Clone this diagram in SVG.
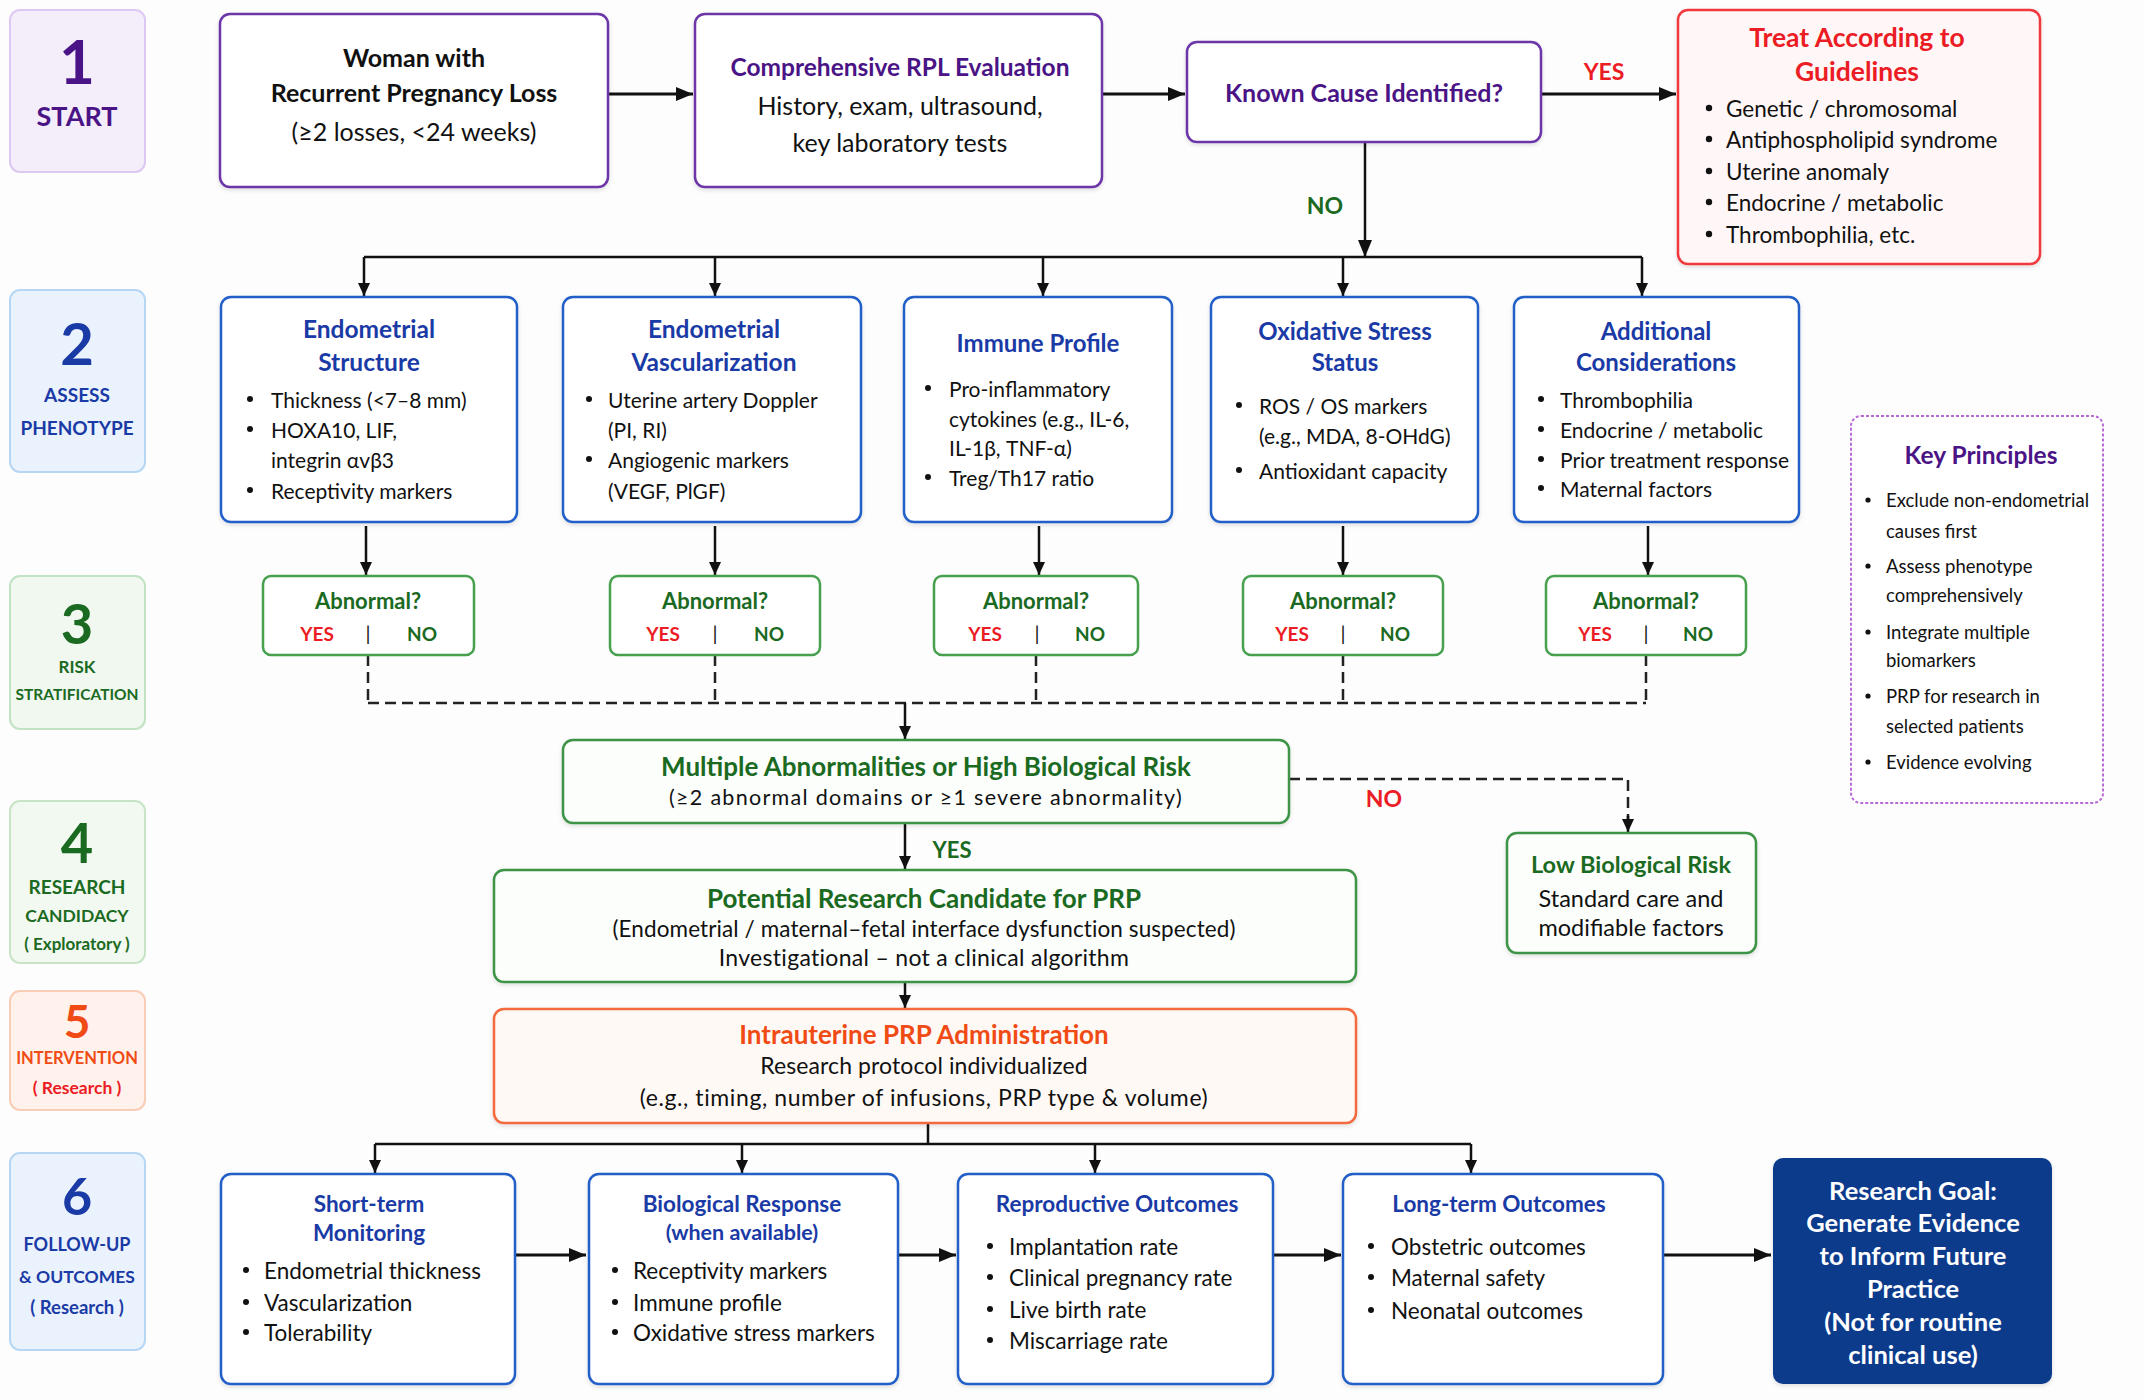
<svg xmlns="http://www.w3.org/2000/svg" width="2144" height="1399" viewBox="0 0 2144 1399">
<defs>
<marker id="ah" markerUnits="userSpaceOnUse" markerWidth="18" markerHeight="16" refX="17" refY="8" orient="auto"><path d="M0,1 L17,8 L0,15 z" fill="#111"/></marker>
<marker id="as" markerUnits="userSpaceOnUse" markerWidth="14" markerHeight="14" refX="13" refY="7" orient="auto"><path d="M0,1 L13,7 L0,13 z" fill="#111"/></marker>
<filter id="sh" x="-5%" y="-5%" width="110%" height="115%"><feDropShadow dx="0" dy="2" stdDeviation="2" flood-color="#000" flood-opacity="0.12"/></filter>
</defs>
<style>
text{font-family:Lato,"Liberation Sans",sans-serif;dominant-baseline:central;fill:#111}
.c{text-anchor:middle}
.b{font-weight:bold}
.n{font-size:21px}
.m{font-size:25px}
.r6{font-size:22.5px}
.box{fill:#fff;stroke-width:2.5}
.pur{stroke:#6c35a8}
.blu{stroke:#2160c8}
.grn{stroke:#46a04e}
.tp{fill:#4a1486}
.tb{fill:#1a3aa6}
.tg{fill:#1b6a22}
.tr{fill:#ec1c24}
.to{fill:#f04b14}
.w{fill:#fff}
.ln{stroke:#111;stroke-width:2.5;fill:none}
.lt{stroke:#111;stroke-width:3;fill:none}
.dl{stroke:#222;stroke-width:2.5;fill:none;stroke-dasharray:11 6}
.bl{fill:#111}
.stage{stroke-width:2}
</style>
<rect width="2144" height="1399" fill="#fdfdfd"/>

<!-- stage labels -->
<g id="stage1"><rect x="10" y="10" width="135" height="162" rx="10" fill="#f4eefb" stroke="#dcc8f0" class="stage"/><text x="77" y="60" class="c b tp" font-size="62">1</text><text x="77" y="115" class="c b tp" font-size="27">START</text></g>
<g id="stage2"><rect x="10" y="290" width="135" height="182" rx="10" fill="#eaf3fd" stroke="#b7d6f4" class="stage"/><text x="77" y="342" class="c b tb" font-size="58">2</text><text x="77" y="394" class="c b tb" font-size="19">ASSESS</text><text x="77" y="427" class="c b tb" font-size="19">PHENOTYPE</text></g>
<g id="stage3"><rect x="10" y="576" width="135" height="153" rx="10" fill="#f0f8f0" stroke="#c2e2c4" class="stage"/><text x="77" y="622" class="c b tg" font-size="56">3</text><text x="77" y="666" class="c b tg" font-size="17">RISK</text><text x="77" y="694" class="c b tg" font-size="15.5">STRATIFICATION</text></g>
<g id="stage4"><rect x="10" y="801" width="135" height="162" rx="10" fill="#f2f9f0" stroke="#c8e4c6" class="stage"/><text x="77" y="841" class="c b tg" font-size="56">4</text><text x="77" y="886" class="c b tg" font-size="19">RESEARCH</text><text x="77" y="915" class="c b tg" font-size="17.5">CANDIDACY</text><text x="77" y="943" class="c b tg" font-size="17">( Exploratory )</text></g>
<g id="stage5"><rect x="10" y="991" width="135" height="119" rx="10" fill="#fff1eb" stroke="#f7cdb8" class="stage"/><text x="77" y="1020" class="c b to" font-size="46">5</text><text x="77" y="1058" class="c b to" font-size="16.5">INTERVENTION</text><text x="77" y="1087" class="c b tr" font-size="17.5">( Research )</text></g>
<g id="stage6"><rect x="10" y="1153" width="135" height="197" rx="10" fill="#eaf3fd" stroke="#b7d6f4" class="stage"/><text x="77" y="1195" class="c b tb" font-size="52">6</text><text x="77" y="1244" class="c b tb" font-size="18">FOLLOW-UP</text><text x="77" y="1276" class="c b tb" font-size="17.5">&amp; OUTCOMES</text><text x="77" y="1307" class="c b tb" font-size="18.5">( Research )</text></g>

<!-- connectors -->
<g id="connectors">
<path class="lt" d="M608,94 H693" marker-end="url(#ah)"/>
<path class="lt" d="M1102,94 H1185" marker-end="url(#ah)"/>
<path class="lt" d="M1541,94 H1676" marker-end="url(#ah)"/>
<path class="ln" d="M1365,142 V257" marker-end="url(#ah)"/>
<path class="ln" d="M364,257 H1642"/>
<path class="ln" d="M364,257 V296" marker-end="url(#as)"/>
<path class="ln" d="M715,257 V296" marker-end="url(#as)"/>
<path class="ln" d="M1043,257 V296" marker-end="url(#as)"/>
<path class="ln" d="M1343,257 V296" marker-end="url(#as)"/>
<path class="ln" d="M1642,257 V296" marker-end="url(#as)"/>
<path class="ln" d="M366,526 V575" marker-end="url(#as)"/>
<path class="ln" d="M715,526 V575" marker-end="url(#as)"/>
<path class="ln" d="M1039,526 V575" marker-end="url(#as)"/>
<path class="ln" d="M1343,526 V575" marker-end="url(#as)"/>
<path class="ln" d="M1648,526 V575" marker-end="url(#as)"/>
<path class="dl" d="M368,655 V703 M715,655 V703 M1036,655 V703 M1343,655 V703 M1646,655 V703 M368,703 H1646"/>
<path class="ln" d="M905,703 V739" marker-end="url(#as)"/>
<path class="dl" d="M1289,779 H1628 V820"/>
<path class="ln" d="M1628,816 V832" marker-end="url(#as)"/>
<path class="ln" d="M905,823 V869" marker-end="url(#as)"/>
<path class="ln" d="M905,982 V1008" marker-end="url(#as)"/>
<path class="ln" d="M928,1123 V1144 M375,1144 H1471"/>
<path class="ln" d="M375,1144 V1173" marker-end="url(#as)"/>
<path class="ln" d="M742,1144 V1173" marker-end="url(#as)"/>
<path class="ln" d="M1095,1144 V1173" marker-end="url(#as)"/>
<path class="ln" d="M1471,1144 V1173" marker-end="url(#as)"/>
<path class="lt" d="M515,1255 H586" marker-end="url(#ah)"/>
<path class="lt" d="M898,1255 H956" marker-end="url(#ah)"/>
<path class="lt" d="M1273,1255 H1341" marker-end="url(#ah)"/>
<path class="lt" d="M1663,1255 H1771" marker-end="url(#ah)"/>
<text x="1604" y="71" class="c b tr" font-size="23">YES</text>
<text x="1325" y="205" class="c b tg" font-size="23">NO</text>
<text x="1384" y="798" class="c b tr" font-size="23">NO</text>
<text x="952" y="849" class="c b tg" font-size="22">YES</text>
</g>

<!-- row 1 -->
<g id="woman"><rect x="220" y="14" width="388" height="173" rx="10" class="box pur" filter="url(#sh)"/><text x="414" y="57" class="c b m">Woman with</text><text x="414" y="92" class="c b m">Recurrent Pregnancy Loss</text><text x="414" y="131" class="c m">(≥2 losses, &lt;24 weeks)</text></g>
<g id="evaluation"><rect x="695" y="14" width="407" height="173" rx="10" class="box pur" filter="url(#sh)"/><text x="900" y="66" class="c b tp" font-size="24.5">Comprehensive RPL Evaluation</text><text x="900" y="105" class="c m">History, exam, ultrasound,</text><text x="900" y="142" class="c m">key laboratory tests</text></g>
<g id="known"><rect x="1187" y="42" width="354" height="100" rx="10" class="box pur" filter="url(#sh)"/><text x="1364" y="92" class="c b m tp">Known Cause Identified?</text></g>
<g id="treat"><rect x="1678" y="10" width="362" height="254" rx="10" fill="#fff7f7" stroke="#f0383c" stroke-width="2.5" filter="url(#sh)"/><text x="1857" y="37" class="c b tr" font-size="26.5">Treat According to</text><text x="1857" y="71" class="c b tr" font-size="26.5">Guidelines</text>
<g font-size="22.5"><circle cx="1709" cy="108" r="3.2" class="bl"/><text x="1726" y="108">Genetic / chromosomal</text><circle cx="1709" cy="139" r="3.2" class="bl"/><text x="1726" y="139">Antiphospholipid syndrome</text><circle cx="1709" cy="171" r="3.2" class="bl"/><text x="1726" y="171">Uterine anomaly</text><circle cx="1709" cy="202" r="3.2" class="bl"/><text x="1726" y="202">Endocrine / metabolic</text><circle cx="1709" cy="234" r="3.2" class="bl"/><text x="1726" y="234">Thrombophilia, etc.</text></g></g>

<!-- row 2 phenotype -->
<g id="structure"><rect x="221" y="297" width="296" height="225" rx="10" class="box blu" filter="url(#sh)"/><text x="369" y="328" class="c b tb" font-size="24.5">Endometrial</text><text x="369" y="361" class="c b tb" font-size="24.5">Structure</text>
<g class="n"><circle cx="250" cy="399" r="3" class="bl"/><text x="271" y="399">Thickness (&lt;7–8 mm)</text><circle cx="250" cy="429" r="3" class="bl"/><text x="271" y="429">HOXA10, LIF,</text><text x="271" y="459">integrin αvβ3</text><circle cx="250" cy="490" r="3" class="bl"/><text x="271" y="490">Receptivity markers</text></g></g>
<g id="vascularization"><rect x="563" y="297" width="298" height="225" rx="10" class="box blu" filter="url(#sh)"/><text x="714" y="328" class="c b tb" font-size="24.5">Endometrial</text><text x="714" y="361" class="c b tb" font-size="24.5">Vascularization</text>
<g class="n"><circle cx="589" cy="399" r="3" class="bl"/><text x="608" y="399">Uterine artery Doppler</text><text x="608" y="429">(PI, RI)</text><circle cx="589" cy="459" r="3" class="bl"/><text x="608" y="459">Angiogenic markers</text><text x="608" y="490">(VEGF, PlGF)</text></g></g>
<g id="immune"><rect x="904" y="297" width="268" height="225" rx="10" class="box blu" filter="url(#sh)"/><text x="1038" y="342" class="c b tb" font-size="24">Immune Profile</text>
<g class="n"><circle cx="928" cy="388" r="3" class="bl"/><text x="949" y="388">Pro-inflammatory</text><text x="949" y="418">cytokines (e.g., IL-6,</text><text x="949" y="447">IL-1β, TNF-α)</text><circle cx="928" cy="477" r="3" class="bl"/><text x="949" y="477">Treg/Th17 ratio</text></g></g>
<g id="oxidative"><rect x="1211" y="297" width="267" height="225" rx="10" class="box blu" filter="url(#sh)"/><text x="1345" y="330" class="c b tb" font-size="24">Oxidative Stress</text><text x="1345" y="361" class="c b tb" font-size="24">Status</text>
<g class="n"><circle cx="1239" cy="405" r="3" class="bl"/><text x="1259" y="405">ROS / OS markers</text><text x="1259" y="435">(e.g., MDA, 8-OHdG)</text><circle cx="1239" cy="470" r="3" class="bl"/><text x="1259" y="470">Antioxidant capacity</text></g></g>
<g id="additional"><rect x="1514" y="297" width="285" height="225" rx="10" class="box blu" filter="url(#sh)"/><text x="1656" y="330" class="c b tb" font-size="24">Additional</text><text x="1656" y="361" class="c b tb" font-size="24">Considerations</text>
<g class="n"><circle cx="1541" cy="399" r="3" class="bl"/><text x="1560" y="399">Thrombophilia</text><circle cx="1541" cy="429" r="3" class="bl"/><text x="1560" y="429">Endocrine / metabolic</text><circle cx="1541" cy="459" r="3" class="bl"/><text x="1560" y="459">Prior treatment response</text><circle cx="1541" cy="488" r="3" class="bl"/><text x="1560" y="488">Maternal factors</text></g></g>

<!-- row 3 abnormal -->
<g id="abn1"><rect x="263" y="576" width="211" height="79" rx="8" class="box grn" stroke-width="2"/><text x="368" y="600" class="c b tg" font-size="22">Abnormal?</text><text x="317" y="633" class="c b tr" font-size="19">YES</text><text x="368" y="633" class="c" font-size="20">|</text><text x="422" y="633" class="c b tg" font-size="19">NO</text></g>
<g id="abn2"><rect x="610" y="576" width="210" height="79" rx="8" class="box grn" stroke-width="2"/><text x="715" y="600" class="c b tg" font-size="22">Abnormal?</text><text x="663" y="633" class="c b tr" font-size="19">YES</text><text x="715" y="633" class="c" font-size="20">|</text><text x="769" y="633" class="c b tg" font-size="19">NO</text></g>
<g id="abn3"><rect x="934" y="576" width="204" height="79" rx="8" class="box grn" stroke-width="2"/><text x="1036" y="600" class="c b tg" font-size="22">Abnormal?</text><text x="985" y="633" class="c b tr" font-size="19">YES</text><text x="1037" y="633" class="c" font-size="20">|</text><text x="1090" y="633" class="c b tg" font-size="19">NO</text></g>
<g id="abn4"><rect x="1243" y="576" width="200" height="79" rx="8" class="box grn" stroke-width="2"/><text x="1343" y="600" class="c b tg" font-size="22">Abnormal?</text><text x="1292" y="633" class="c b tr" font-size="19">YES</text><text x="1343" y="633" class="c" font-size="20">|</text><text x="1395" y="633" class="c b tg" font-size="19">NO</text></g>
<g id="abn5"><rect x="1546" y="576" width="200" height="79" rx="8" class="box grn" stroke-width="2"/><text x="1646" y="600" class="c b tg" font-size="22">Abnormal?</text><text x="1595" y="633" class="c b tr" font-size="19">YES</text><text x="1646" y="633" class="c" font-size="20">|</text><text x="1698" y="633" class="c b tg" font-size="19">NO</text></g>

<!-- stratification / candidacy -->
<g id="multiple"><rect x="563" y="740" width="726" height="83" rx="10" fill="#fbfefb" stroke="#3e9446" stroke-width="2.5" filter="url(#sh)"/><text x="926" y="766" class="c b tg" font-size="26">Multiple Abnormalities or High Biological Risk</text><text x="926" y="797" class="c" font-size="21.5" letter-spacing="1.3">(≥2 abnormal domains or ≥1 severe abnormality)</text></g>
<g id="lowrisk"><rect x="1507" y="833" width="249" height="120" rx="10" fill="#fbfefb" stroke="#3e9446" stroke-width="2.5" filter="url(#sh)"/><text x="1631" y="864" class="c b tg" font-size="23.5">Low Biological Risk</text><text x="1631" y="898" class="c" font-size="23.5">Standard care and</text><text x="1631" y="927" class="c" font-size="23.5">modifiable factors</text></g>
<g id="candidate"><rect x="494" y="870" width="862" height="112" rx="10" fill="#fbfefb" stroke="#3e9446" stroke-width="2.5" filter="url(#sh)"/><text x="924" y="898" class="c b tg" font-size="26">Potential Research Candidate for PRP</text><text x="924" y="928" class="c" font-size="22.5" letter-spacing="0.1">(Endometrial / maternal–fetal interface dysfunction suspected)</text><text x="924" y="957" class="c" font-size="23" letter-spacing="0.3">Investigational – not a clinical algorithm</text></g>
<g id="intervention"><rect x="494" y="1009" width="862" height="114" rx="10" fill="#fff9f5" stroke="#f26a3c" stroke-width="2.5" filter="url(#sh)"/><text x="924" y="1034" class="c b to" font-size="26">Intrauterine PRP Administration</text><text x="924" y="1065" class="c" font-size="23" letter-spacing="0.1">Research protocol individualized</text><text x="924" y="1097" class="c" font-size="23" letter-spacing="0.6">(e.g., timing, number of infusions, PRP type &amp; volume)</text></g>

<!-- row 6 -->
<g id="shortterm"><rect x="221" y="1174" width="294" height="210" rx="10" class="box blu" filter="url(#sh)"/><text x="369" y="1203" class="c b tb" font-size="22.5">Short-term</text><text x="369" y="1232" class="c b tb" font-size="22.5">Monitoring</text>
<g class="r6"><circle cx="246" cy="1270" r="3" class="bl"/><text x="264" y="1270">Endometrial thickness</text><circle cx="246" cy="1302" r="3" class="bl"/><text x="264" y="1302">Vascularization</text><circle cx="246" cy="1332" r="3" class="bl"/><text x="264" y="1332">Tolerability</text></g></g>
<g id="biological"><rect x="589" y="1174" width="309" height="210" rx="10" class="box blu" filter="url(#sh)"/><text x="742" y="1203" class="c b tb" font-size="22.5">Biological Response</text><text x="742" y="1232" class="c b tb" font-size="21.5">(when available)</text>
<g class="r6"><circle cx="615" cy="1270" r="3" class="bl"/><text x="633" y="1270">Receptivity markers</text><circle cx="615" cy="1302" r="3" class="bl"/><text x="633" y="1302">Immune profile</text><circle cx="615" cy="1332" r="3" class="bl"/><text x="633" y="1332">Oxidative stress markers</text></g></g>
<g id="reproductive"><rect x="958" y="1174" width="315" height="210" rx="10" class="box blu" filter="url(#sh)"/><text x="1117" y="1203" class="c b tb" font-size="22.5">Reproductive Outcomes</text>
<g class="r6"><circle cx="990" cy="1246" r="3" class="bl"/><text x="1009" y="1246">Implantation rate</text><circle cx="990" cy="1277" r="3" class="bl"/><text x="1009" y="1277">Clinical pregnancy rate</text><circle cx="990" cy="1309" r="3" class="bl"/><text x="1009" y="1309">Live birth rate</text><circle cx="990" cy="1340" r="3" class="bl"/><text x="1009" y="1340">Miscarriage rate</text></g></g>
<g id="longterm"><rect x="1343" y="1174" width="320" height="210" rx="10" class="box blu" filter="url(#sh)"/><text x="1499" y="1203" class="c b tb" font-size="22.5">Long-term Outcomes</text>
<g class="r6"><circle cx="1371" cy="1246" r="3" class="bl"/><text x="1391" y="1246">Obstetric outcomes</text><circle cx="1371" cy="1277" r="3" class="bl"/><text x="1391" y="1277">Maternal safety</text><circle cx="1371" cy="1310" r="3" class="bl"/><text x="1391" y="1310">Neonatal outcomes</text></g></g>
<g id="goal"><rect x="1773" y="1158" width="279" height="226" rx="10" fill="#0c3a8c" filter="url(#sh)"/>
<g class="c b" font-size="25.5"><text x="1913" y="1190" class="w">Research Goal:</text><text x="1913" y="1222" class="w">Generate Evidence</text><text x="1913" y="1255" class="w">to Inform Future</text><text x="1913" y="1288" class="w">Practice</text><text x="1913" y="1321" class="w">(Not for routine</text><text x="1913" y="1354" class="w">clinical use)</text></g></g>

<!-- key principles -->
<g id="keyprinciples"><rect x="1851" y="416" width="252" height="387" rx="10" fill="#fff" stroke="#b86ad8" stroke-width="2" stroke-dasharray="3 2"/><text x="1981" y="454" class="c b tp" font-size="24.5">Key Principles</text>
<g font-size="18.5"><circle cx="1868" cy="500" r="2.6" class="bl"/><text x="1886" y="500">Exclude non-endometrial</text><text x="1886" y="531">causes first</text><circle cx="1868" cy="566" r="2.6" class="bl"/><text x="1886" y="566">Assess phenotype</text><text x="1886" y="595">comprehensively</text><circle cx="1868" cy="632" r="2.6" class="bl"/><text x="1886" y="632">Integrate multiple</text><text x="1886" y="660">biomarkers</text><circle cx="1868" cy="696" r="2.6" class="bl"/><text x="1886" y="696">PRP for research in</text><text x="1886" y="726">selected patients</text><circle cx="1868" cy="762" r="2.6" class="bl"/><text x="1886" y="762">Evidence evolving</text></g></g>
</svg>
